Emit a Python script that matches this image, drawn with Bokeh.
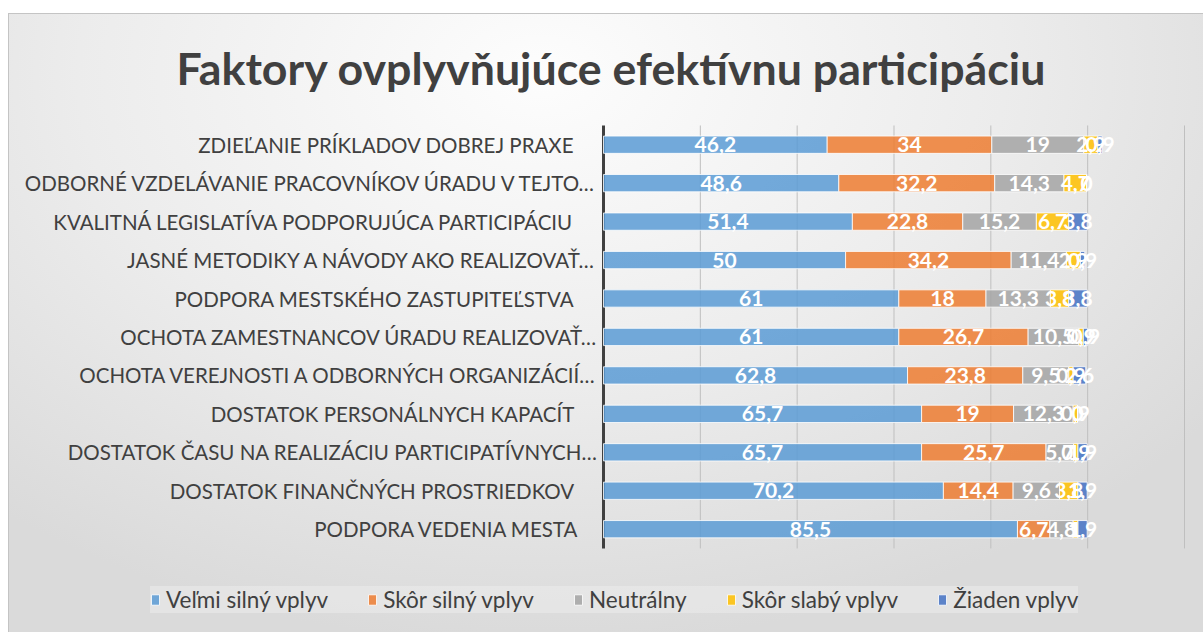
from bokeh.plotting import figure
from bokeh.models import ColumnDataSource, Range1d, Legend, LegendItem, Label
from bokeh.core.properties import value
from bokeh.embed import file_html
from bokeh.resources import INLINE

categories = [
    "ZDIEĽANIE PRÍKLADOV DOBREJ PRAXE ",
    "ODBORNÉ VZDELÁVANIE PRACOVNÍKOV ÚRADU V TEJTO…",
    "KVALITNÁ LEGISLATÍVA PODPORUJÚCA PARTICIPÁCIU ",
    "JASNÉ METODIKY A NÁVODY AKO REALIZOVAŤ…",
    "PODPORA MESTSKÉHO ZASTUPITEĽSTVA ",
    "OCHOTA ZAMESTNANCOV ÚRADU REALIZOVAŤ…",
    "OCHOTA VEREJNOSTI A ODBORNÝCH ORGANIZÁCIÍ…",
    "DOSTATOK PERSONÁLNYCH KAPACÍT ",
    "DOSTATOK ČASU NA REALIZÁCIU PARTICIPATÍVNYCH…",
    "DOSTATOK FINANČNÝCH PROSTRIEDKOV ",
    "PODPORA VEDENIA MESTA",
]
velmi_silny = [46.2, 48.6, 51.4, 50, 61, 61, 62.8, 65.7, 65.7, 70.2, 85.5]
skor_silny = [34, 32.2, 22.8, 34.2, 18, 26.7, 23.8, 19, 25.7, 14.4, 6.7]
neutralny = [19, 14.3, 15.2, 11.4, 13.3, 10.5, 9.5, 12.3, 5.7, 9.6, 4.8]
skor_slaby = [2.9, 4.7, 6.7, 2.9, 3.8, 0.9, 0.9, 0.9, 0.9, 3.8, 1.0]
ziaden = [0.9, 0, 3.8, 0.9, 3.8, 0.9, 2.6, 0, 1.9, 1.9, 1.9]

series_names = ["Veľmi silný vplyv", "Skôr silný vplyv", "Neutrálny", "Skôr slabý vplyv", "Žiaden vplyv"]
colors = ["#5B9BD5", "#ED7D31", "#A5A5A5", "#FFC000", "#4472C4"]
x_ticks = [20, 40, 60, 80, 100, 120]
title_text = "Faktory ovplyvňujúce efektívnu participáciu"

# ---- layout constants (pixels) ----
W, H = 1203, 632
AXIS_PX = 603.0      # x = 0
XMAX_PX = 1184.0     # x = 120
X_MAX = 120.0
ROW0_PX = 144.2      # centre of first row
ROW_STEP = 38.45

sx = (XMAX_PX - AXIS_PX) / X_MAX
x_range = Range1d(-AXIS_PX / sx, (W - AXIS_PX) / sx)
y_range = Range1d((H - ROW0_PX) / ROW_STEP, -ROW0_PX / ROW_STEP)

n = len(categories)
rows = list(range(n))
series = [velmi_silny, skor_silny, neutralny, skor_slaby, ziaden]
keys = ["s%d" % i for i in range(len(series))]
data = {"row": rows, "cat": categories,
        "cat_x": [(-6.0 if c.endswith("…") else -24.0) / sx for c in categories]}
for k, vals in zip(keys, series):
    data[k] = vals
source = ColumnDataSource(data)

lab_x, lab_y, lab_t = [], [], []
for i in rows:
    start = 0.0
    for vals in series:
        v = vals[i]
        lab_x.append(start + v / 2.0)
        lab_y.append(i)
        lab_t.append(("%g" % v).replace(".", ","))
        start += v
lab_source = ColumnDataSource(dict(x=lab_x, y=lab_y, t=lab_t))

p = figure(
    width=W, height=H, x_range=x_range, y_range=y_range,
    output_backend="svg", toolbar_location=None,
    min_border=0, min_border_left=0, min_border_right=0, min_border_top=0, min_border_bottom=0,
)
p.axis.visible = False
p.grid.visible = False
p.background_fill_alpha = 0
p.border_fill_alpha = 0
p.outline_line_color = None
p.styles = {"background": (
    "linear-gradient(#c4c4c4,#c4c4c4) 8px 13px/100% 1px no-repeat,"
    "linear-gradient(#c4c4c4,#c4c4c4) 8px 13px/1px 100% no-repeat,"
    "linear-gradient(#ffffff,#ffffff) 0 0/100% 13px no-repeat,"
    "linear-gradient(#ffffff,#ffffff) 0 0/8px 100% no-repeat,"
    "radial-gradient(ellipse 70% 90% at 45% 12%, #fdfdfd 0%, #ececec 55%, #dadada 100%)")}

# gridlines and axis line
grid_src = ColumnDataSource(dict(x=x_ticks, y0=[-0.5] * len(x_ticks), y1=[n - 0.5] * len(x_ticks)))
p.segment(x0="x", x1="x", y0="y0", y1="y1", source=grid_src, line_color="#BFBFBF", line_width=1)
p.segment(x0=[0], x1=[0], y0=[-0.5], y1=[n - 0.5], line_color="#404040", line_width=3)

renderers = p.hbar_stack(keys, y="row", height=0.45, color=colors, fill_alpha=0.85,
                         line_color="white", line_width=1, line_alpha=0.8, source=source)

p.text(x="x", y="y", text="t", source=lab_source, text_color="white",
       text_font=value("Lato"), text_font_style="bold", text_font_size="21px",
       text_align="center", text_baseline="middle")

# category labels
p.text(x="cat_x", y="row", text="cat", source=source, text_color="#404040",
       text_font=value("Lato"), text_font_size="20.5px",
       text_align="right", text_baseline="middle")

title = Label(x=8.0 / sx, y=(67 - ROW0_PX) / ROW_STEP, text=title_text,
              text_font="Lato", text_font_style="bold", text_font_size="44.7px",
              text_color="#404040", text_align="center", text_baseline="middle")
p.add_layout(title)

legend = Legend(
    items=[LegendItem(label=nm, renderers=[r]) for nm, r in zip(series_names, renderers)],
    orientation="horizontal", location=(150, 19),
    label_text_font="Lato", label_text_font_size="22.5px", label_text_color="#404040",
    glyph_width=10, glyph_height=13, label_standoff=6, spacing=39, padding=10, margin=0,
    background_fill_color="#f2f2f2", background_fill_alpha=0.4, border_line_color=None,
)
p.add_layout(legend)

open("out.html", "w").write(file_html(p, INLINE))
